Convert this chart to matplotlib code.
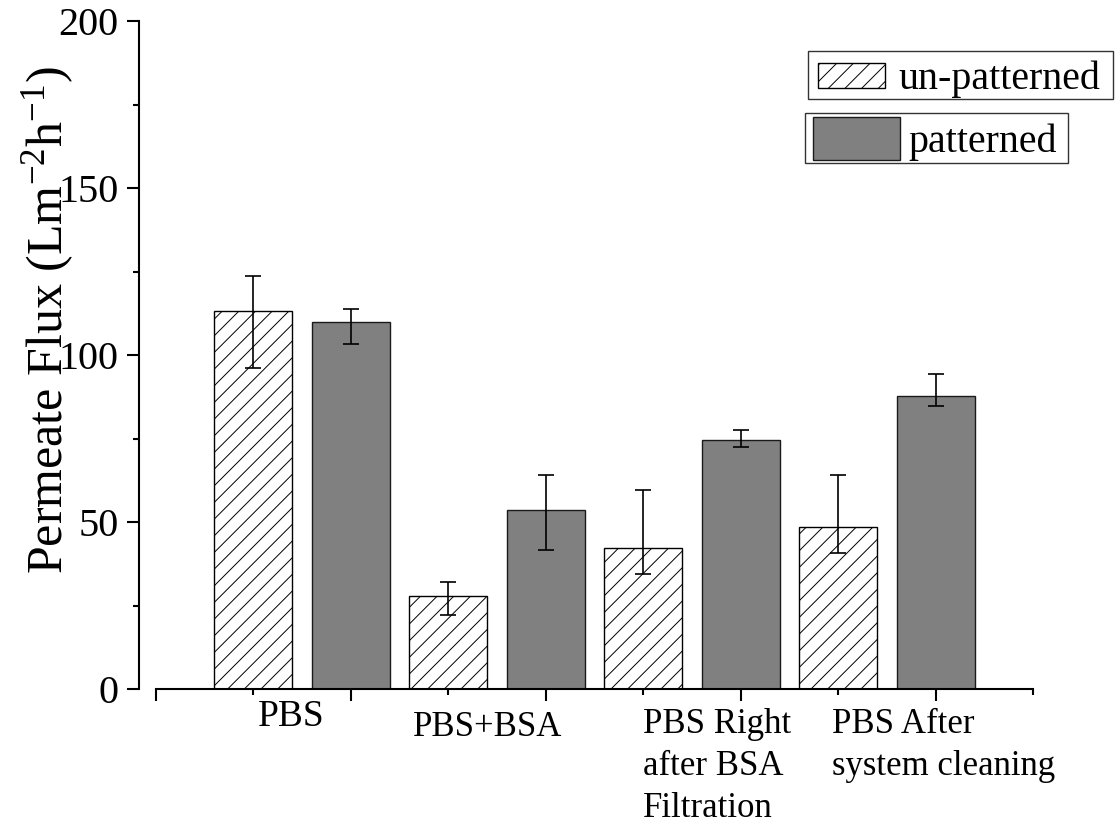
import matplotlib
matplotlib.use("Agg")
import matplotlib.pyplot as plt
from matplotlib.patches import Rectangle
from matplotlib.ticker import MultipleLocator, NullFormatter
import numpy as np

# ---- data ----
categories = ["PBS", "PBS+BSA", "PBS Right\nafter BSA\nFiltration", "PBS After\nsystem cleaning"]
unpatterned = [113.2, 27.8, 42.2, 48.4]
unpatterned_err_up = [10.5, 4.2, 17.5, 15.6]
unpatterned_err_lo = [17.1, 5.6, 7.8, 7.8]
patterned = [110.0, 53.5, 74.5, 87.8]
patterned_err_up = [3.8, 10.5, 3.0, 6.5]
patterned_err_lo = [6.7, 11.8, 2.0, 3.2]
series_labels = ["un-patterned", "patterned"]
y_ticks = [0, 50, 100, 150, 200]

plt.rcParams['font.family'] = ['Liberation Serif', 'DejaVu Serif']
plt.rcParams['mathtext.fontset'] = 'custom'
plt.rcParams['mathtext.rm'] = 'Liberation Serif'
plt.rcParams['mathtext.it'] = 'Liberation Serif:italic'
plt.rcParams['hatch.linewidth'] = 0.7

W, H = 1115, 824
fig = plt.figure(figsize=(W / 100, H / 100), dpi=100)
ax_l, ax_r, ax_t, ax_b = 156, 1033, 21, 689
ax = fig.add_axes([ax_l / W, 1 - ax_b / H, (ax_r - ax_l) / W, (ax_b - ax_t) / H])

idx = np.arange(len(categories))
x_un = 2 * idx + 1
x_pa = 2 * idx + 2
bw = 0.8
gray = '#808080'

ax.bar(x_un, unpatterned, bw, color='white', edgecolor='black', hatch='//', linewidth=1.0, zorder=2)
ax.bar(x_pa, patterned, bw, color=gray, edgecolor='#1a1a1a', linewidth=1.0, zorder=2)
ax.errorbar(x_un, unpatterned, yerr=[unpatterned_err_lo, unpatterned_err_up], fmt='none',
            ecolor='black', elinewidth=1.2, capsize=5.5, capthick=1.2, zorder=3)
ax.errorbar(x_pa, patterned, yerr=[patterned_err_lo, patterned_err_up], fmt='none',
            ecolor='black', elinewidth=1.2, capsize=5.5, capthick=1.2, zorder=3)

ax.set_xlim(0, 9)
ax.set_ylim(0, 200)
for s in ['top', 'right']:
    ax.spines[s].set_visible(False)
ax.spines['left'].set_position(('outward', 12.2))
for s in ['left', 'bottom']:
    ax.spines[s].set_linewidth(1.5)

ax.set_yticks(y_ticks)
ax.yaxis.set_minor_locator(MultipleLocator(25))
ax.xaxis.set_major_locator(MultipleLocator(2))
ax.xaxis.set_minor_locator(MultipleLocator(1))
ax.xaxis.set_major_formatter(NullFormatter())
ax.tick_params(axis='both', which='major', direction='out', length=8.6, width=1.5, labelsize=29, pad=6)
ax.tick_params(axis='both', which='minor', direction='out', length=4.3, width=1.5)

ax.set_ylabel(r'Permeate Flux (Lm$^{-2}$h$^{-1}$)', fontsize=36, va='center')
ax.yaxis.set_label_coords((48 - ax_l) / (ax_r - ax_l), (ax_b - 320) / (ax_b - ax_t))

# category labels below the axis
trans = matplotlib.transforms.blended_transform_factory(ax.transData, ax.transAxes)
def ypix(p):
    return (ax_b - p) / (ax_b - ax_t)
label_x = [1.39, 3.40, 5.0, 6.94]
label_top = [699, 711, 708, 708]
label_ha = ['center', 'center', 'left', 'left']
label_fs = [27, 25, 25, 25]
for cat, lx, lt, ha, fs in zip(categories, label_x, label_top, label_ha, label_fs):
    ax.text(lx, ypix(lt), cat, transform=trans, ha=ha, va='top', fontsize=fs,
            linespacing=1.36, multialignment='left')

# legend boxes (two separate framed entries)
def legend_box(box, patch, text_x, label, **kw):
    bx0, by0, bx1, by1 = box
    fig.patches.append(Rectangle((bx0 / W, 1 - by1 / H), (bx1 - bx0) / W, (by1 - by0) / H,
                                 transform=fig.transFigure, facecolor='white',
                                 edgecolor='#333333', linewidth=1.0))
    px0, py0, px1, py1 = patch
    fig.patches.append(Rectangle((px0 / W, 1 - py1 / H), (px1 - px0) / W, (py1 - py0) / H,
                                 transform=fig.transFigure, linewidth=1.0, **kw))
    fig.text(text_x / W, 1 - ((by0 + by1) / 2) / H, label, ha='left', va='center_baseline', fontsize=28.8)

legend_box((808, 51, 1113, 99), (818, 63, 885, 88), 898, series_labels[0],
           facecolor='white', edgecolor='black', hatch='//')
legend_box((805, 113, 1068, 163), (813, 117, 900, 160), 908, series_labels[1],
           facecolor=gray, edgecolor='#1a1a1a')

fig.savefig('out.png', dpi=100)
